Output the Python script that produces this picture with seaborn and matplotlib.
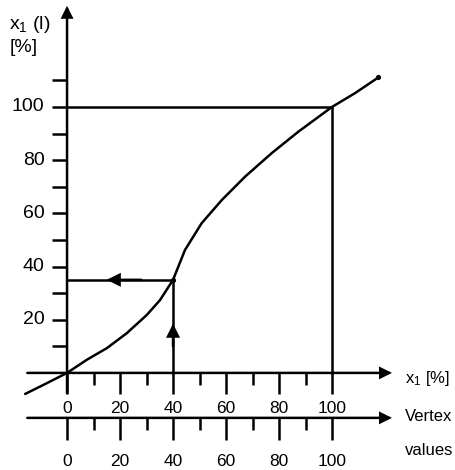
import matplotlib
matplotlib.use("Agg")
import matplotlib.pyplot as plt
import seaborn as sns
import pandas as pd

sns.set_style("white")
plt.rcParams['font.family'] = ['Liberation Sans', 'DejaVu Sans']
plt.rcParams['text.color'] = 'black'
plt.rcParams['mathtext.fontset'] = 'custom'
plt.rcParams['mathtext.rm'] = 'Liberation Sans'
plt.rcParams['mathtext.it'] = 'Liberation Sans'

# ---- data ----
curve_x = [-15.8, -8.9, 0, 7.4, 15, 22.5, 30.1, 35.1, 40, 44.5, 50.8, 58.4, 67.2, 77.2, 87.3, 100, 108.7, 117.5]
curve_y = [-7.9, -4.5, 0, 4.9, 9.3, 14.9, 21.8, 27.4, 35, 46.2, 56.3, 65, 73.8, 82.6, 90.7, 100, 105.2, 111.1]
dot_x = [40, 117.5]
dot_y = [35, 111.1]
x_major = [0, 20, 40, 60, 80, 100]
x_minor = [10, 30, 50, 70, 90]
x_labels = ["0", "20", "40", "60", "80", "100"]
y_ticks = [10, 20, 30, 40, 50, 60, 70, 80, 90, 100, 110]
y_label_vals = [20, 40, 60, 80, 100]
y_labels = ["20", "40", "60", "80", "100"]
work_x = 40      # input value
work_y = 35      # resulting value
full = 100

fig = plt.figure(figsize=(4.55, 4.70), dpi=100)
ax = fig.add_axes([0, 0, 1, 1])

LW = 1.8
K = 'black'

def arrow(x0, y0, x1, y1, ms=16):
    ax.annotate('', xy=(x1, y1), xytext=(x0, y0),
                arrowprops=dict(arrowstyle='-|>', mutation_scale=ms, lw=LW,
                                color=K, shrinkA=0, shrinkB=0,
                                joinstyle='miter'))

# y axis
arrow(0, -7.6, 0, 138)
ax.hlines(y_ticks, -5.7, 0, color=K, lw=LW)
for v, t in zip(y_label_vals, y_labels):
    ax.text(-8.5, v, t, ha='right', va='center', fontsize=14)
ax.text(-21.8, 131, r"x$_\mathregular{1}$ (l)", ha='left', va='center', fontsize=14)
ax.text(-21.8, 122.3, "[%]", ha='left', va='center', fontsize=14)

# x1 axis
arrow(-15, 0, 122.6, 0)
ax.vlines(x_major, -7.9, 0, color=K, lw=LW)
ax.vlines(x_minor, -4.5, 0, color=K, lw=LW)
for v, t in zip(x_major, x_labels):
    ax.text(v, -13.2, t, ha='center', va='center', fontsize=12.5)
ax.text(127.5, -2.0, r"x$_\mathregular{1}$ [%]", ha='left', va='center', fontsize=12)

# vertex values axis
yv = -16.9
arrow(-15, yv, 122.6, yv)
ax.vlines(x_major, yv - 8.3, yv, color=K, lw=LW)
ax.vlines(x_minor, yv - 4.5, yv, color=K, lw=LW)
for v, t in zip(x_major, x_labels):
    ax.text(v, -33.3, t, ha='center', va='center', fontsize=12.5)
ax.text(127.5, -16.5, "Vertex", ha='left', va='center', fontsize=12)
ax.text(127.5, -29.0, "values", ha='left', va='center', fontsize=12)

# reference lines
ax.plot([0, full], [full, full], color=K, lw=LW)
ax.plot([full, full], [0, full], color=K, lw=LW)
ax.plot([work_x, work_x], [0, work_y], color=K, lw=LW)
ax.plot([0, work_x], [work_y, work_y], color=K, lw=LW)
arrow(work_x, 10, work_x, 18.5, ms=18)
arrow(28, work_y, 15, work_y, ms=18)

# curve
df = pd.DataFrame({'x': curve_x, 'y': curve_y})
sns.lineplot(data=df, x='x', y='y', ax=ax, color=K, lw=LW, sort=False, estimator=None)
sns.scatterplot(x=dot_x, y=dot_y, ax=ax, color=K, s=14, linewidth=0)
ax.set_xlim(-25.3, 146.4)
ax.set_ylim(-36.5, 140.2)
ax.axis('off')

fig.savefig("out.png", dpi=100)
